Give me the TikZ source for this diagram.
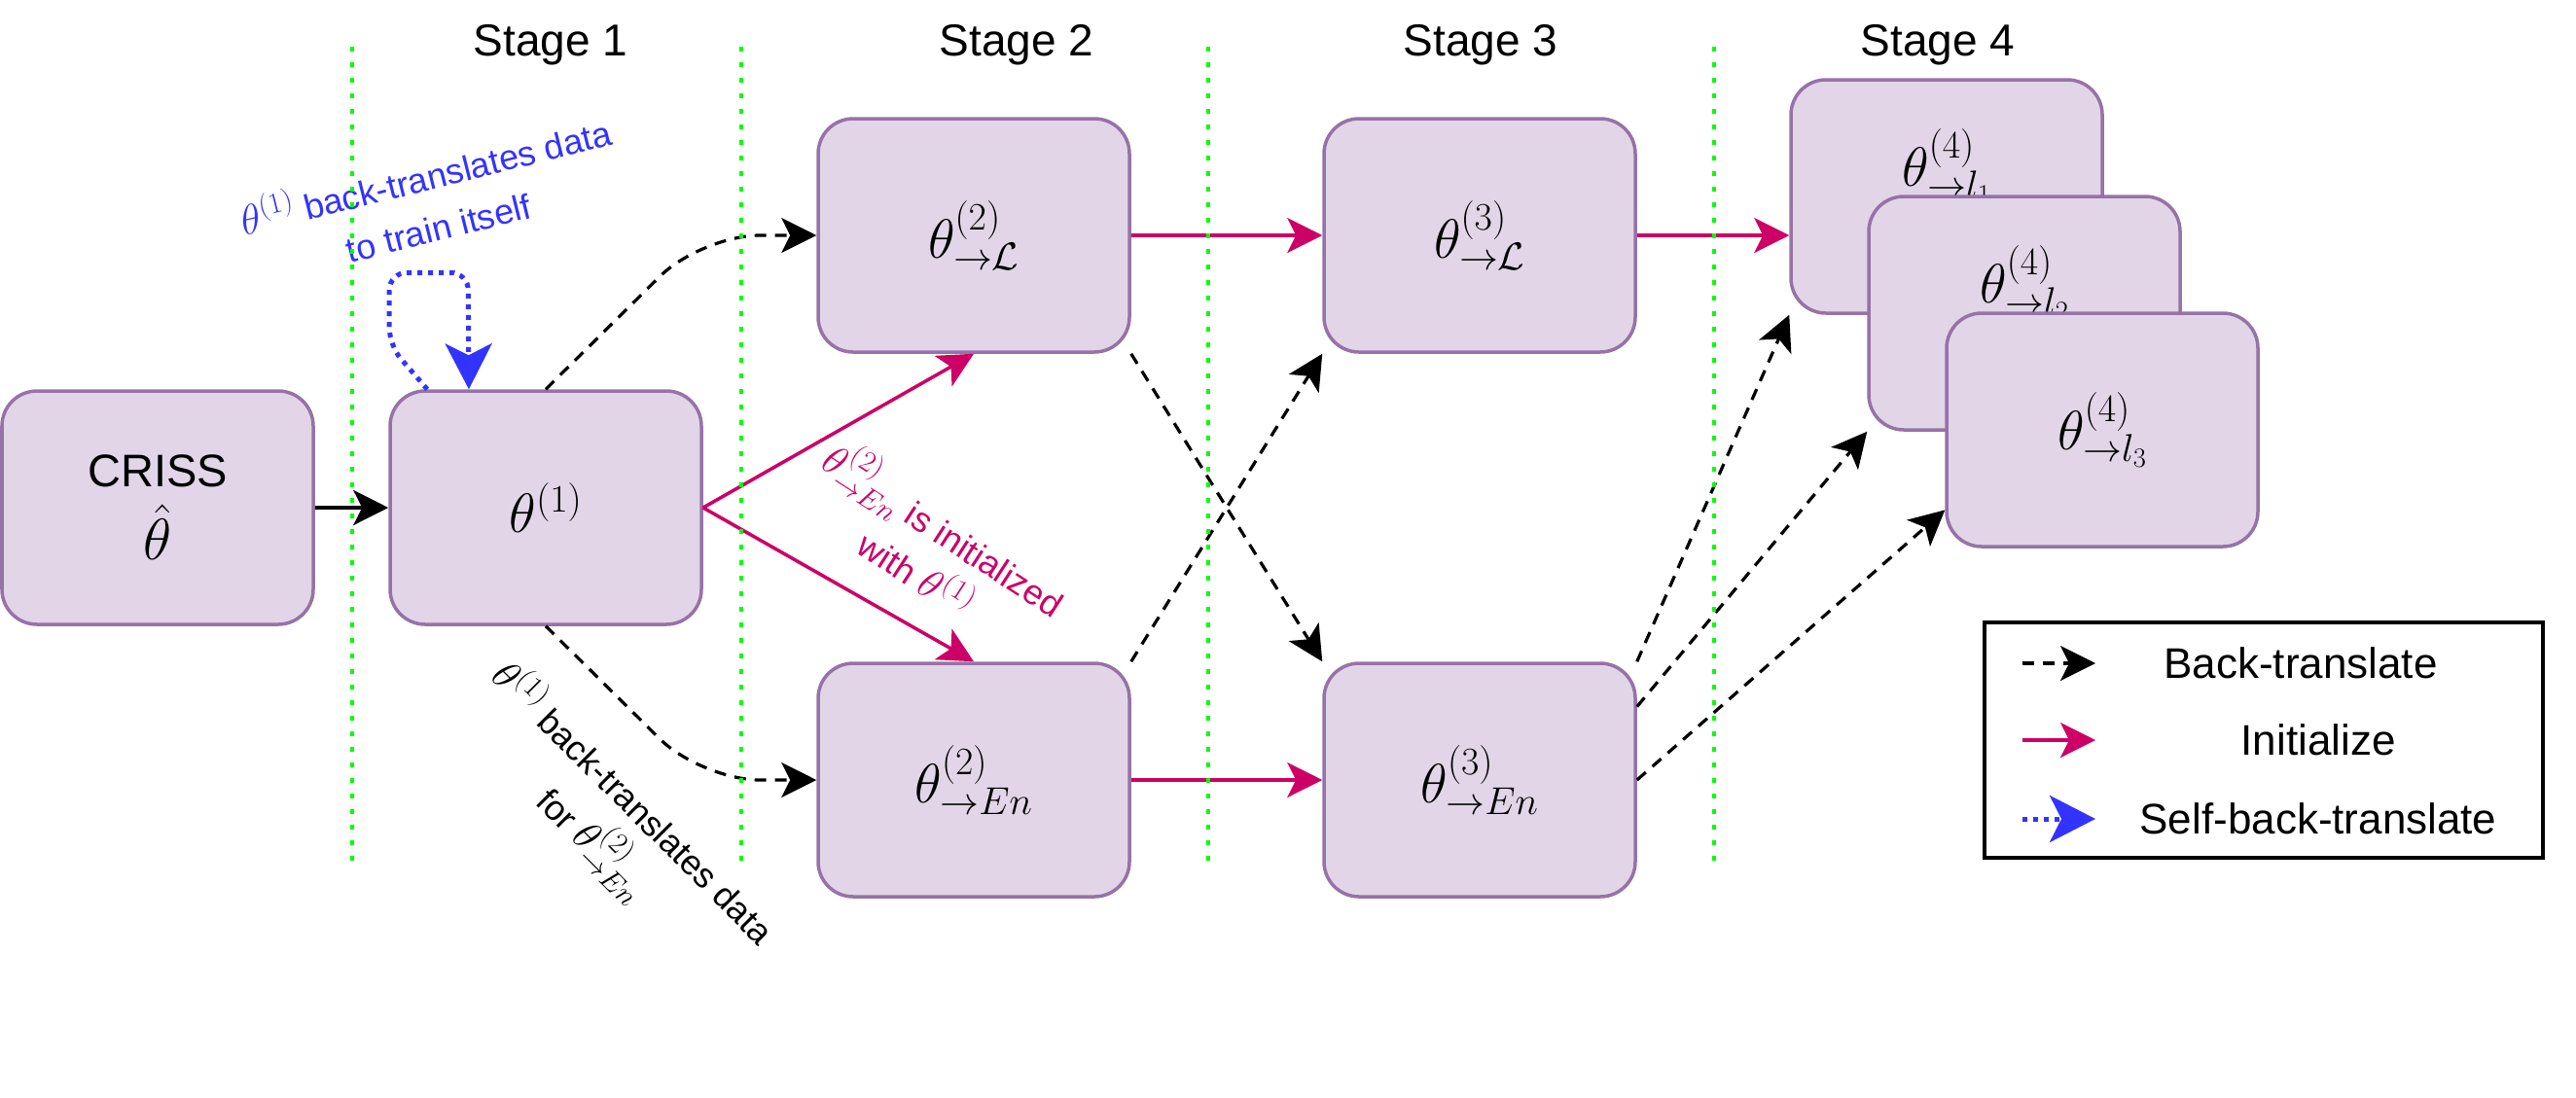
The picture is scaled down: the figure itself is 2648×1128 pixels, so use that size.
\documentclass[tikz,border=0pt]{standalone}
\usepackage{fix-cm}
\usepackage{amsmath}
\usepackage[no-math]{fontspec}
\setmainfont{Liberation Sans}
\usepackage{tikz}
\usetikzlibrary{arrows.meta,positioning}

\definecolor{boxfill}{HTML}{E1D5E7}
\definecolor{boxline}{HTML}{9673A6}
\definecolor{initcol}{HTML}{CC0066}
\definecolor{selfcol}{HTML}{3333FF}
\definecolor{stagecol}{HTML}{00FF00}

\newcommand{\notemath}[1]{{\fontsize{43}{53}\selectfont$#1$}}

\begin{document}
\begin{tikzpicture}[x=1pt, y=-1pt, node distance=440pt, auto,
                    >={Stealth[length=36pt,width=36pt,inset=9pt]},
                    model/.style={draw=boxline, fill=boxfill, line width=3.5pt, rounded corners=36pt,
                                  minimum width=320pt, minimum height=240pt, inner sep=0pt, align=center,
                                  font=\fontsize{57}{68}\selectfont},
                    raised/.style={label={[yshift=31pt, font=\fontsize{57}{68}\selectfont]center:#1}},
                    bt/.style={->, draw=black, line width=3.2pt, dash pattern=on 12pt off 9pt},
                    init/.style={->, draw=initcol, line width=3.5pt},
                    selfbt/.style={-{Stealth[length=47pt,width=48pt,inset=12pt]}, draw=selfcol,
                                   line width=5pt, dash pattern=on 5pt off 6pt},
                    stage/.style={anchor=base, font=\fontsize{46}{55}\selectfont},
                    divider/.style={draw=stagecol, line width=4.5pt, dash pattern=on 4.5pt off 11.5pt},
                    note/.style={align=center, font=\fontsize{36}{53}\selectfont},
                    legtext/.style={font=\fontsize{44}{53}\selectfont}]

\useasboundingbox (0,0) rectangle (2648,1128);

\node[model, font=\fontsize{60}{75}\selectfont] (criss) at (162,522) {{\fontsize{47}{75}\selectfont CRISS}\\$\hat{\theta}$};
\node[model] (t1) [right of=criss, xshift=-41pt] {$\theta^{(1)}$};
\node[model] (t2L) [right of=t1, yshift=280pt] {$\theta^{(2)}_{\to\mathcal{L}}$};
\node[model] (t2E) [right of=t1, yshift=-280pt] {$\theta^{(2)}_{\to En}$};
\node[model] (t3L) [right of=t2L, xshift=80pt] {$\theta^{(3)}_{\to\mathcal{L}}$};
\node[model] (t3E) [right of=t2E, xshift=80pt] {$\theta^{(3)}_{\to En}$};
\node[model, raised={$\theta^{(4)}_{\to l_1}$}] (l1) [right of=t3L, xshift=40pt, yshift=40pt] {};
\node[model, raised={$\theta^{(4)}_{\to l_2}$}, xshift=80pt, yshift=-120pt] (l2) at (l1) {};
\node[model, xshift=80pt, yshift=-120pt] (l3) at (l2) {$\theta^{(4)}_{\to l_3}$};

\node[stage] (s1) at (566,57) {Stage 1};
\node[stage] (s2) at (1045,57) {Stage 2};
\node[stage] (s3) at (1522,57) {Stage 3};
\node[stage] (s4) at (1992,57) {Stage 4};

\draw[->, line width=4pt] (criss) -- (t1);
\draw[bt, rounded corners=60pt] (t1.north) -- ([xshift=160pt]t1.north |- t2L.west) -- (t2L.west);
\draw[bt, rounded corners=60pt] (t1.south) -- ([xshift=160pt]t1.south |- t2E.west) -- (t2E.west);
\draw[init] (t1.east) -- (t2L.south);
\draw[init] (t1.east) -- (t2E.north);
\draw[init] (t2L) -- (t3L);
\draw[init] (t2E) -- (t3E);
\draw[bt] (t2L.south east) -- (t3E.north west);
\draw[bt] (t2E.north east) -- (t3L.south west);
\draw[init] (t3L.east) -- (t3L.east -| l1.west);
\draw[bt] (t3E.north east) -- (l1.south west);
\draw[bt] (t3E.25) -- (l2.south west);
\draw[bt] (t3E.east) -- (l3.207);
\draw[selfbt, rounded corners=18pt] (t1.135) -- ++(-39,-45) -- ++(0,-75) -- ++(81,0) -- (t1.123);

\node[note, text=selfcol, rotate=14] (selfnote) at (443,203) {\notemath{\theta^{(1)}} back-translates data\\to train itself};
\node[note, text=initcol, rotate=-33] (initnote) at (960,562) {\notemath{\theta^{(2)}_{\to En}} is initialized\\with \notemath{\theta^{(1)}}};
\node[note, rotate=-45] (btnote) at (631,846) {\notemath{\theta^{(1)}} back-translates data\\[6pt]for \notemath{\theta^{(2)}_{\to En}}};

\draw[divider] (362,48) -- (362,885);
\draw[divider] (762,48) -- (762,885);
\draw[divider] (1242,48) -- (1242,885);
\draw[divider] (1762,48) -- (1762,885);

\node[draw, line width=3.5pt, minimum width=574pt, minimum height=242pt] (legend) at (2327,761) {};
\node[legtext] (lbt) at (2365,682) {Back-translate};
\node[legtext] (linit) at (2383,761) {Initialize};
\node[legtext] (lself) at (2383,842) {Self-back-translate};
\coordinate (lbta) at (2079,682);
\coordinate (lbtb) at (2154,682);
\coordinate (linita) at (2079,761);
\coordinate (linitb) at (2154,761);
\coordinate (lselfa) at (2079,842);
\coordinate (lselfb) at (2154,842);
\draw[bt] (lbta) -- (lbtb);
\draw[init] (linita) -- (linitb);
\draw[selfbt] (lselfa) -- (lselfb);
\end{tikzpicture}
\end{document}
